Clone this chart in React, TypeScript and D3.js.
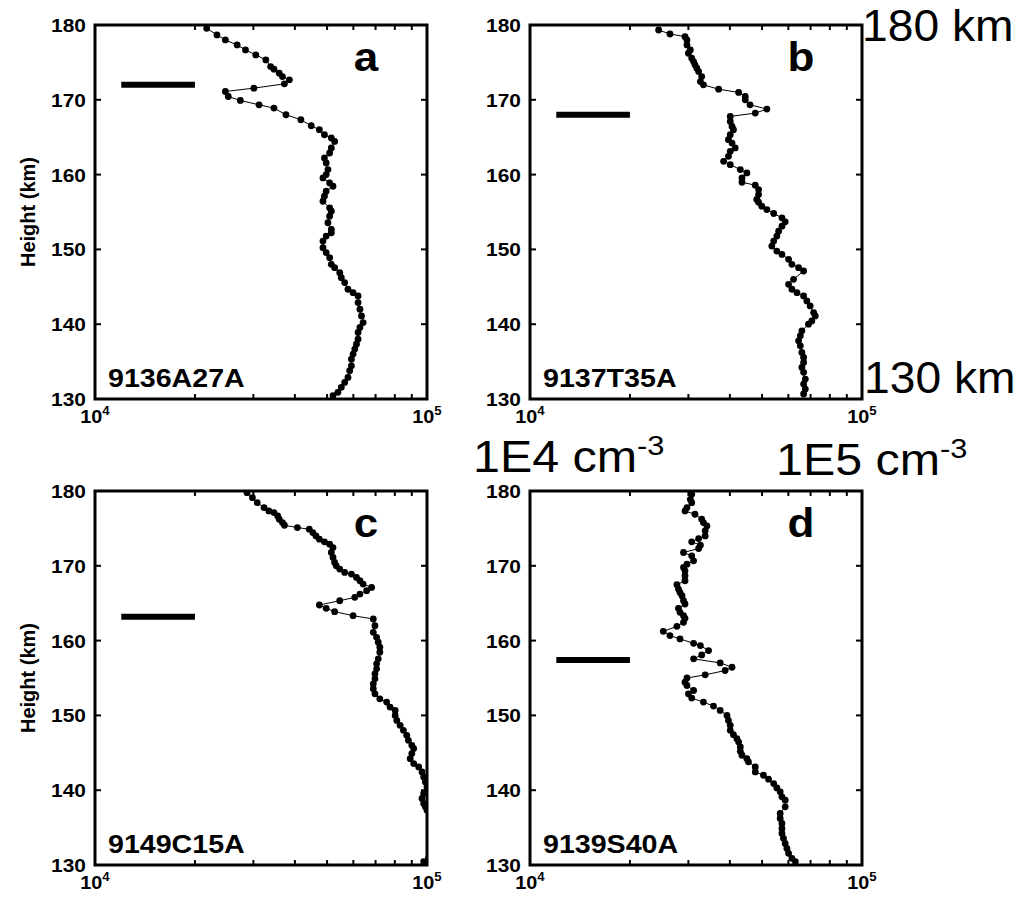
import React from 'react';
import * as d3 from 'd3';

// ---------------- DATA ----------------
const heightsA = [179.56,178.67,178.0,177.33,176.67,176.0,175.33,174.44,174.09,173.56,173.11,172.67,172.13,171.56,171.11,170.44,169.91,169.33,168.89,168.0,167.33,166.53,166.0,165.33,164.89,164.44,163.56,162.89,162.22,161.56,160.67,160.0,159.56,158.89,158.44,157.78,157.11,156.44,155.56,155.11,154.44,153.56,152.67,152.22,151.78,151.11,150.22,149.56,148.89,148.0,147.56,146.89,146.22,145.56,144.67,144.22,143.78,142.89,142.0,141.11,140.22,139.56,138.89,138.0,137.33,136.67,136.0,135.33,134.44,133.78,132.89,132.22,131.56,130.89,130.44];
const densityA = [21700,23300,24700,26800,28400,30500,32700,33800,34600,35900,36700,38500,37200,30100,24700,25200,27400,31200,34600,37600,41700,44800,47400,49100,51500,52700,51500,50900,49100,49700,50300,49700,48600,50900,52100,49700,49100,48600,50900,51500,50900,50300,51500,51500,49700,48600,48600,49700,50900,51500,52700,54600,55200,56500,57800,59900,62000,62000,62800,63500,64200,62800,62000,62000,61300,60600,59900,59200,59200,58500,57800,56500,55200,53900,52100];

const heightsB = [179.33,178.8,178.44,178.0,177.33,176.67,176.22,175.56,175.11,174.67,174.22,173.78,173.11,172.44,172.0,171.42,170.98,170.44,170.0,169.33,168.76,168.22,167.78,167.11,166.44,166.0,165.33,164.67,164.22,163.56,163.11,162.44,161.78,161.33,160.67,160.22,159.56,158.98,158.58,158.0,157.33,156.67,156.31,155.78,155.33,154.8,154.22,153.69,153.11,152.44,151.78,151.11,150.44,149.78,149.33,148.67,148.0,147.56,147.11,146.0,145.33,144.67,144.22,143.78,143.11,142.44,141.56,141.11,140.44,140.0,139.11,138.44,137.78,137.11,136.22,135.56,134.89,134.22,133.56,132.67,132.0,131.33,130.67];
const densityB = [24400,26400,29300,29700,29700,30400,30000,30700,31100,31400,31800,32200,32900,32600,33300,37000,42500,44500,44500,46000,51700,47700,40100,40100,40600,41000,40100,39600,40600,41500,40100,39600,38300,40100,43000,45000,43500,43500,47700,48800,48800,48200,48800,49900,51700,54200,57400,58700,57400,56100,55400,54200,53500,55400,57400,60100,61500,64400,66700,62200,60100,61500,63700,66700,68200,69800,71500,72300,70600,69000,65900,65200,64400,65200,65900,66700,66700,65900,66700,67500,66700,67500,66700];

const heightsC = [179.78,179.11,178.44,177.78,177.33,177.11,176.67,176.22,175.78,175.42,175.11,174.89,174.44,174.0,173.56,173.2,172.89,172.44,171.78,171.11,170.44,170.0,169.56,169.11,168.89,168.44,168.0,167.56,167.11,166.67,166.22,165.78,165.33,164.76,164.31,163.87,163.33,162.89,162.0,161.11,160.44,159.78,159.11,158.44,157.56,156.89,156.22,155.56,154.89,154.22,153.56,152.89,152.22,151.78,151.11,150.67,150.0,149.33,148.67,148.0,147.33,146.67,146.0,145.56,144.89,144.22,143.56,143.11,142.44,141.78,141.11,140.44,140.0,139.56,138.89,138.22,137.78,137.33,136.67,136.0,135.33,134.67,134.0,133.33,132.67,132.0,131.33,130.89,130.44];
const densityC = [28700,29800,30800,32300,33400,34600,35500,35900,36700,37200,40700,44200,45300,46300,47400,49100,50900,52100,51500,52100,52700,53300,54600,56500,59200,61300,62800,64200,68100,65800,62800,60600,54600,47400,49700,52700,59900,68900,69700,68900,70500,71300,72100,72100,71300,70500,70500,69700,69700,68900,68900,69700,72100,75600,77400,80200,80200,81100,83000,84900,86900,87900,90000,91200,90000,89000,91200,94400,96600,97700,98900,100000,102000,97700,96600,97700,98900,100000,104000,106000,108000,110000,111000,112000,112000,110000,106000,101000,97700];

const heightsD = [179.56,178.89,178.44,177.78,177.33,176.89,176.22,175.78,175.33,174.67,174.0,173.64,173.2,172.76,172.31,171.78,171.33,170.67,170.22,169.78,169.33,168.67,168.0,167.47,166.89,166.44,166.0,165.33,164.89,164.31,163.78,163.33,162.98,162.44,161.91,161.24,160.67,160.22,159.64,159.33,158.67,158.09,157.56,157.02,156.44,156.0,155.42,155.0,154.44,154.0,153.33,152.89,152.31,151.78,151.24,150.67,150.0,149.33,148.67,148.0,147.42,146.89,146.44,145.78,145.2,144.67,144.22,143.78,143.11,142.44,142.0,141.47,140.89,140.31,139.78,139.11,138.67,137.78,136.89,136.22,135.56,134.89,134.22,133.56,132.89,132.22,131.56,130.89,130.44];
const densityD = [30700,30400,30700,29700,29300,31400,32900,33300,34100,33700,33700,32200,30700,32600,32200,29000,30700,31100,29700,29000,29300,29300,29300,27700,28000,28300,28700,29000,29300,28000,28300,29000,29300,29000,27700,25200,26400,28300,31100,32600,34500,32900,31100,37400,40600,38700,33700,29700,29300,29700,31100,30000,30700,33300,35700,37400,39200,39600,40100,40100,41000,42000,42500,43000,43000,43500,45000,45500,47700,47700,50500,52300,54200,55400,56700,57400,58700,58700,56700,56700,57400,57400,57400,58000,58700,59400,60100,61500,63000];

const panelLetters = ['a', 'b', 'c', 'd'];
const sampleIds = ['9136A27A', '9137T35A', '9149C15A', '9139S40A'];
const barHeights = [172, 168, 163.2, 157.4];
const barRange = [12000, 20000];
const yTickValues = [130, 140, 150, 160, 170, 180];
const xMinorTicks = [20000, 30000, 40000, 50000, 60000, 70000, 80000, 90000];
const xTickLabels = [{ base: '10', exp: '4', value: 10000 }, { base: '10', exp: '5', value: 100000 }];
const xDomain = [10000, 100000];
const yDomain = [130, 180];

// ---------------- LAYOUT ----------------
const FONT = '"Liberation Sans", Arial, Helvetica, sans-serif';
const SX = 1.1; // horizontal stretch of glyphs seen in the reference
const PW = 332;
const PH = 374;
const positions = [
  { left: 95, top: 25, ylabel: true },
  { left: 530, top: 25, ylabel: false },
  { left: 95, top: 491, ylabel: true },
  { left: 530, top: 491, ylabel: false },
];
const series = [
  { h: heightsA, n: densityA },
  { h: heightsB, n: densityB },
  { h: heightsC, n: densityC },
  { h: heightsD, n: densityD },
];

function SText({ x, y, anchor = 'start', size, bold = false, sx = SX, children }: any) {
  return (
    <g transform={`translate(${x},${y}) scale(${sx},1)`}>
      <text x={0} y={0} textAnchor={anchor} fontFamily={FONT} fontWeight={bold ? 'bold' : 'normal'} fontSize={size}>
        {children}
      </text>
    </g>
  );
}

function Panel({ idx }: { idx: number }) {
  const pos = positions[idx];
  const x = d3.scaleLog().domain(xDomain).range([0, PW]);
  const y = d3.scaleLinear().domain(yDomain).range([PH, 0]);
  const s = series[idx];
  const pts = s.h.map((h, i) => [s.n[i], h] as [number, number]);
  const line = d3.line<[number, number]>().x(d => x(d[0])).y(d => y(d[1]));
  const clipId = `clip-${idx}`;
  return (
    <g transform={`translate(${pos.left},${pos.top})`}>
      <defs>
        <clipPath id={clipId}>
          <rect x={0} y={0} width={PW} height={PH} />
        </clipPath>
      </defs>
      <g clipPath={`url(#${clipId})`}>
        <path d={line(pts) || ''} fill="none" stroke="#000" strokeWidth={1} />
        {pts.map((p, i) => (
          <circle key={i} cx={x(p[0])} cy={y(p[1])} r={3.4} fill="#000" />
        ))}
      </g>
      <line x1={x(barRange[0])} x2={x(barRange[1])} y1={y(barHeights[idx])} y2={y(barHeights[idx])} stroke="#000" strokeWidth={6} />
      {yTickValues.map(t => (
        <g key={t}>
          <line x1={0} x2={6} y1={y(t)} y2={y(t)} stroke="#000" strokeWidth={2} />
          <line x1={PW - 6} x2={PW} y1={y(t)} y2={y(t)} stroke="#000" strokeWidth={2} />
          <SText x={-9} y={y(t) + 7} anchor="end" size={19} bold>{t}</SText>
        </g>
      ))}
      {xMinorTicks.map(t => (
        <g key={t}>
          <line x1={x(t)} x2={x(t)} y1={PH} y2={PH - 5} stroke="#000" strokeWidth={2} />
          <line x1={x(t)} x2={x(t)} y1={0} y2={5} stroke="#000" strokeWidth={2} />
        </g>
      ))}
      {xTickLabels.map(t => (
        <SText key={t.exp} x={x(t.value)} y={PH + 24} anchor="middle" size={18} bold>
          {t.base}
          <tspan dy={-8} fontSize={12}>{t.exp}</tspan>
        </SText>
      ))}
      <rect x={0} y={0} width={PW} height={PH} fill="none" stroke="#000" strokeWidth={3} />
      <SText x={271} y={46} anchor="middle" size={40} bold>{panelLetters[idx]}</SText>
      <SText x={13} y={PH - 12} size={26} bold>{sampleIds[idx]}</SText>
      {pos.ylabel && (
        <text transform={`translate(${-60},${PH / 2}) rotate(-90)`} textAnchor="middle" fontFamily={FONT} fontWeight="bold" fontSize={20}>Height (km)</text>
      )}
    </g>
  );
}

export default function App() {
  return (
    <svg width={1021} height={898} style={{ position: 'absolute', left: 0, top: 0, background: '#fff' }}>
      <rect x={0} y={0} width={1021} height={898} fill="#fff" />
      {positions.map((_, i) => <Panel key={i} idx={i} />)}
      <SText x={862} y={41} size={44} sx={1.05}>180 km</SText>
      <SText x={864} y={393} size={44} sx={1.05}>130 km</SText>
      <SText x={473} y={472} size={44}>1E4 cm<tspan dy={-17} fontSize={28}>-3</tspan></SText>
      <SText x={776} y={475} size={44}>1E5 cm<tspan dy={-17} fontSize={28}>-3</tspan></SText>
    </svg>
  );
}
